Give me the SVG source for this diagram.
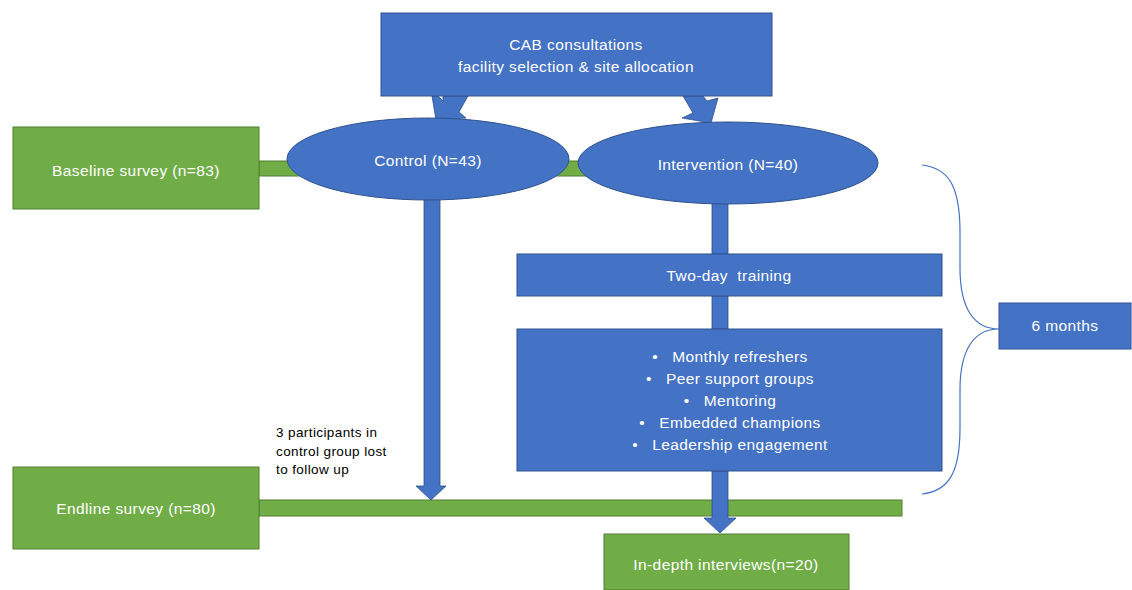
<svg xmlns="http://www.w3.org/2000/svg" width="1132" height="590" viewBox="0 0 1132 590">
<style>
.blue{fill:#4472C4;stroke:#2F528F;stroke-width:1}
.green{fill:#70AD47;stroke:#507E32;stroke-width:1}
.arrow{fill:#4472C4;stroke:#2F528F;stroke-width:0.8}
.t{font-family:"Liberation Sans",Arial,sans-serif;font-size:15.5px;letter-spacing:0.4px;fill:#FFFFFF;text-anchor:middle;white-space:pre}
.note{font-family:"Liberation Sans",Arial,sans-serif;font-size:13.5px;letter-spacing:0.4px;fill:#000000}
.brace{fill:none;stroke:#4472C4;stroke-width:1.2}
</style>
<rect width="1132" height="590" fill="#FFFFFF"/>
<g id="connectors">
  <rect class="green" x="259" y="161" width="340" height="15"/>
  <rect class="green" x="259" y="500" width="643" height="16"/>
  <polygon class="arrow" points="432,96 438,96 443,101 443,96 468,96 459,112 466,118 436,120"/>
  <polygon class="arrow" points="683,96 703,96 707,101 718,98 711,123 682,118 693,113"/>
  <polygon class="arrow" points="424,198 440,198 440,486 446,486 431,500 416,486 424,486"/>
  <rect class="arrow" x="712" y="201" width="16" height="53"/>
  <rect class="arrow" x="712" y="296" width="16" height="33"/>
  <polygon class="arrow" points="712,471 728,471 728,518 736,518 720,533 704,518 712,518"/>
  <path class="brace" d="M922,165 C948,168 960,185 960,232 L960,268 C960,310 975,329 999,329 C975,329 960,348 960,390 L960,428 C960,474 948,491 922,494"/>
</g>
<g id="cab">
  <rect class="blue" x="381" y="13" width="391" height="83"/>
  <text class="t" x="576" y="50">CAB consultations</text>
  <text class="t" x="576" y="72">facility selection &amp; site allocation</text>
</g>
<g id="baseline">
  <rect class="green" x="13" y="127" width="246" height="82"/>
  <text class="t" x="136" y="176">Baseline survey (n=83)</text>
</g>
<g id="control">
  <ellipse class="blue" cx="428" cy="159" rx="141" ry="41"/>
  <text class="t" x="428" y="166">Control (N=43)</text>
</g>
<g id="intervention">
  <ellipse class="blue" cx="728" cy="163" rx="150" ry="41"/>
  <text class="t" x="728" y="170">Intervention (N=40)</text>
</g>
<g id="training">
  <rect class="blue" x="517" y="254" width="425" height="42"/>
  <text class="t" x="729" y="281">Two-day  training</text>
</g>
<g id="activities">
  <rect class="blue" x="517" y="329" width="425" height="142"/>
  <text class="t" x="730" y="362">•   Monthly refreshers</text>
  <text class="t" x="730" y="384">•   Peer support groups</text>
  <text class="t" x="730" y="406">•   Mentoring</text>
  <text class="t" x="730" y="428">•   Embedded champions</text>
  <text class="t" x="730" y="450">•   Leadership engagement</text>
</g>
<g id="six-months">
  <rect class="blue" x="999" y="303" width="132" height="46"/>
  <text class="t" x="1065" y="331">6 months</text>
</g>
<g id="lost-note">
  <text class="note" x="276" y="437">3 participants in</text>
  <text class="note" x="276" y="456">control group lost</text>
  <text class="note" x="276" y="474">to follow up</text>
</g>
<g id="endline">
  <rect class="green" x="13" y="467" width="246" height="82"/>
  <text class="t" x="136" y="514">Endline survey (n=80)</text>
</g>
<g id="interviews">
  <rect class="green" x="604" y="534" width="245" height="56"/>
  <text class="t" x="726" y="570">In-depth interviews(n=20)</text>
</g>
</svg>
